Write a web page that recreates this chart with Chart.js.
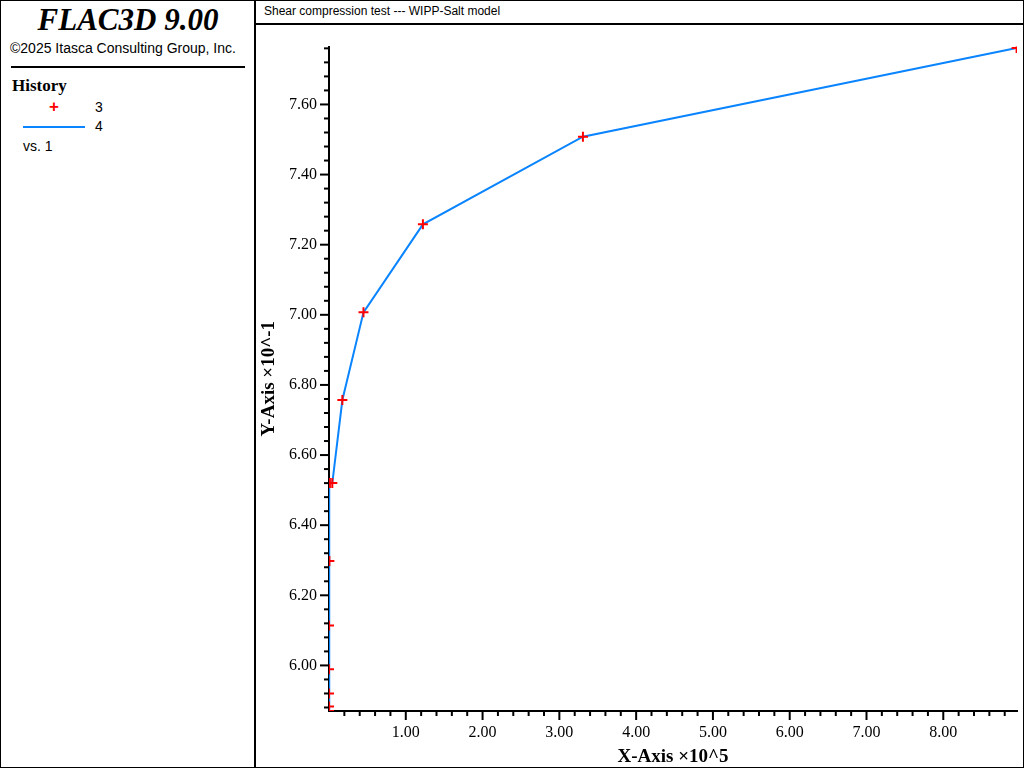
<!DOCTYPE html>
<html>
<head>
<meta charset="utf-8">
<script src="https://cdn.jsdelivr.net/npm/chart.js@4"></script>
<style>
  body { margin: 0; width: 1024px; height: 768px; overflow: hidden; background: #fff; font-family: Arial, "Liberation Sans", sans-serif; }
  #frame { position: absolute; left: 0; top: 0; width: 1022px; height: 766px; border: 1px solid #000; }
  #side { position: absolute; left: 0; top: 0; width: 256px; height: 768px; border-right: 2px solid #000; box-sizing: border-box; }
  #logo { position: absolute; left: 0; width: 256px; top: 2px; text-align: center; font: italic bold 31px "Liberation Serif", serif; }
  #copy { position: absolute; left: 10px; top: 40px; font-size: 14px; }
  #rule { position: absolute; left: 11px; top: 66px; width: 234px; border-top: 2px solid #000; }
  #hist { position: absolute; left: 12px; top: 76px; font: bold 17px "Liberation Serif", serif; }
  .leg { position: absolute; font-size: 14px; }
  #head { position: absolute; left: 256px; top: 0; width: 768px; height: 25px; border-bottom: 2px solid #000; box-sizing: border-box; font-size: 12px; padding: 4px 8px; }
  #wrap { position: absolute; left: 258px; top: 25px; width: 766px; height: 743px; }
</style>
</head>
<body>
<div id="frame"></div>
<div id="side">
  <div id="logo">FLAC3D 9.00</div>
  <div id="copy">©2025 Itasca Consulting Group, Inc.</div>
  <div id="rule"></div>
  <div id="hist">History</div>
  <div class="leg" style="left:49px;top:97px;color:#f00;font-weight:bold;font-size:17px">+</div>
  <div class="leg" style="left:95px;top:99px">3</div>
  <div class="leg" style="left:23px;top:126px;width:62px;border-top:2px solid #0a84ff"></div>
  <div class="leg" style="left:95px;top:118px">4</div>
  <div class="leg" style="left:23px;top:138px">vs. 1</div>
</div>
<div id="head">Shear compression test --- WIPP-Salt model</div>
<div id="wrap"><canvas id="c"></canvas></div>
<script>
const x_values = [0.0, 0.0, 0.0, 0.0, 0.0, 0.005, 0.012, 0.043, 0.174, 0.449, 1.223, 3.307, 8.955];
const y_values = [5.870, 5.883, 5.920, 5.989, 6.114, 6.298, 6.520, 6.520, 6.757, 7.007, 7.258, 7.508, 7.761];
const x_ticks = [1, 2, 3, 4, 5, 6, 7, 8];
const y_ticks = [6.0, 6.2, 6.4, 6.6, 6.8, 7.0, 7.2, 7.4, 7.6];

const points = x_values.map((x, i) => ({ x, y: y_values[i] }));

const minor_ticks = {
  id: "minor_ticks",
  afterDraw(chart) {
    const { ctx, scales: { x, y } } = chart;
    ctx.save();
    ctx.strokeStyle = "#000";
    ctx.lineWidth = 2;
    for (let v = 0.2; v < x.max; v += 0.2) {
      const px = x.getPixelForValue(v);
      const len = Math.abs(v - Math.round(v)) < 1e-6 ? 9 : 5;
      ctx.beginPath(); ctx.moveTo(px, x.top); ctx.lineTo(px, x.top + len); ctx.stroke();
    }
    for (let v = 5.88; v < y.max; v += 0.04) {
      const py = y.getPixelForValue(v);
      const len = Math.abs(v * 5 - Math.round(v * 5)) < 1e-6 ? 9 : 5;
      ctx.beginPath(); ctx.moveTo(y.right, py); ctx.lineTo(y.right - len, py); ctx.stroke();
    }
    ctx.restore();
  },
};

new Chart(document.getElementById("c"), {
  type: "scatter",
  data: {
    datasets: [
      {
        data: points,
        showLine: true,
        borderColor: "#0a84ff",
        borderWidth: 2,
        pointStyle: "cross",
        pointRadius: 5,
        pointBorderColor: "#f00",
        pointBorderWidth: 2,
        pointHoverRadius: 5,
      },
    ],
  },
  options: {
    responsive: true,
    maintainAspectRatio: false,
    animation: false,
    layout: { padding: { top: 2, right: 6, left: 0, bottom: 0 } },
    plugins: { legend: { display: false }, tooltip: { enabled: false } },
    scales: {
      x: {
        type: "linear",
        min: 0,
        max: 8.96,
        afterBuildTicks: (s) => { s.ticks = x_ticks.map((value) => ({ value })); },
        afterFit: (s) => { s.height = 57; },
        grid: { display: false, drawTicks: false },
        border: { color: "#000", width: 2 },
        ticks: { color: "#000", padding: 12, maxRotation: 0, font: { family: "Liberation Serif", size: 16 }, callback: (v) => v.toFixed(2) },
        title: { display: true, text: "X-Axis ×10^5", color: "#000", padding: 0, font: { family: "Liberation Serif", size: 19, weight: "bold" } },
      },
      y: {
        type: "linear",
        min: 5.87,
        max: 7.765,
        afterBuildTicks: (s) => { s.ticks = y_ticks.map((value) => ({ value })); },
        afterFit: (s) => { s.width = 71; },
        grid: { display: false, drawTicks: false },
        border: { color: "#000", width: 2 },
        ticks: { color: "#000", padding: 12, font: { family: "Liberation Serif", size: 16 }, callback: (v) => v.toFixed(2) },
        title: { display: true, text: "Y-Axis ×10^-1", color: "#000", padding: 0, font: { family: "Liberation Serif", size: 19, weight: "bold" } },
      },
    },
  },
  plugins: [minor_ticks],
});
</script>
</body>
</html>
